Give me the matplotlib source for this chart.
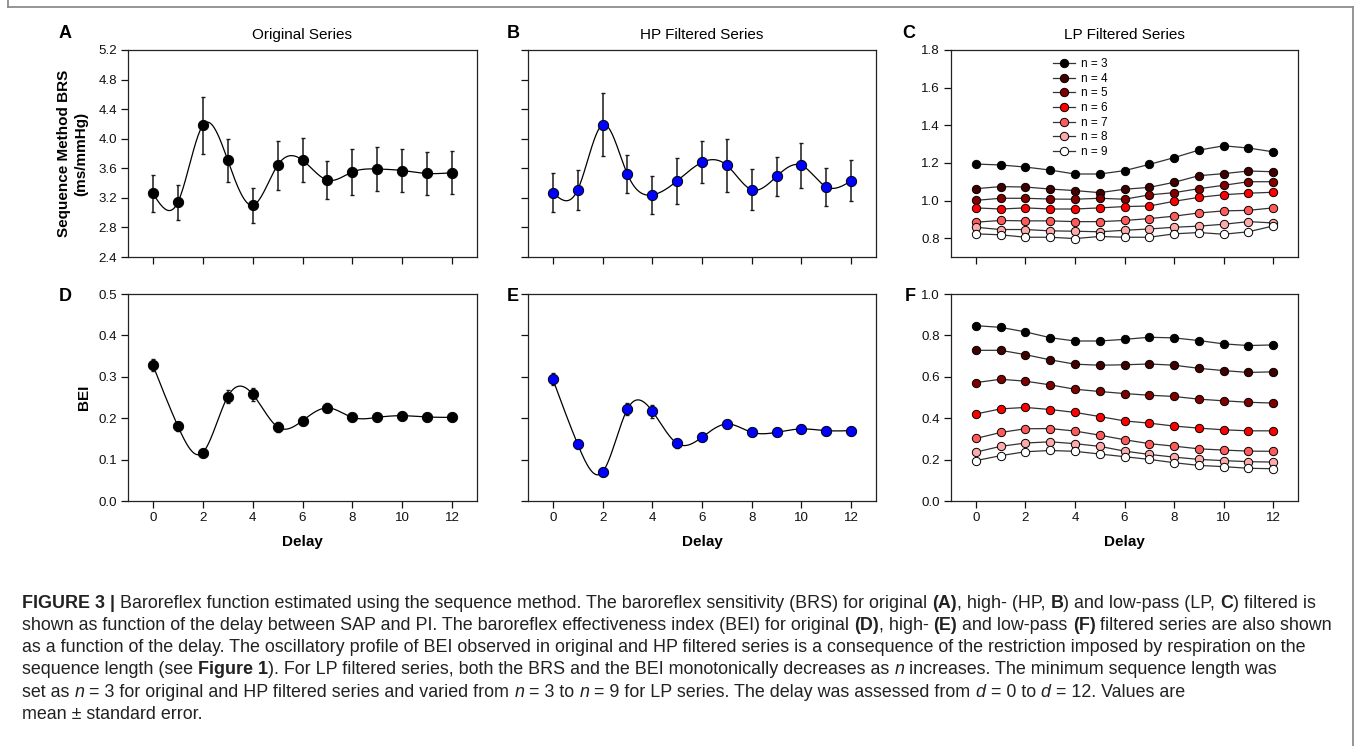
import numpy as np
import matplotlib
matplotlib.use("Agg")
import matplotlib.pyplot as plt
from matplotlib.lines import Line2D
from matplotlib.font_manager import FontProperties

W, H = 1358, 746
FONT = "Liberation Sans"

DELAY = np.arange(13)

# BRS (ms/mmHg), mean and standard error
brs_orig = [3.26, 3.14, 4.18, 3.71, 3.10, 3.64, 3.71, 3.44, 3.55, 3.59, 3.57, 3.53, 3.54]
brs_orig_se = [0.25, 0.235, 0.38, 0.29, 0.235, 0.335, 0.30, 0.257, 0.306, 0.30, 0.29, 0.286, 0.29]
brs_hp = [3.27, 3.31, 4.19, 3.52, 3.24, 3.43, 3.68, 3.64, 3.31, 3.49, 3.64, 3.35, 3.43]
brs_hp_se = [0.26, 0.27, 0.43, 0.26, 0.255, 0.315, 0.285, 0.36, 0.277, 0.266, 0.30, 0.26, 0.277]

# BEI, mean and standard error
bei_orig = [0.328, 0.181, 0.117, 0.252, 0.258, 0.179, 0.194, 0.225, 0.202, 0.202, 0.206, 0.203, 0.202]
bei_orig_se = [0.014, 0.011, 0.007, 0.015, 0.016, 0.012, 0.008, 0.011, 0.006, 0.006, 0.006, 0.005, 0.005]
bei_hp = [0.294, 0.137, 0.070, 0.222, 0.217, 0.139, 0.154, 0.186, 0.166, 0.166, 0.174, 0.170, 0.170]
bei_hp_se = [0.014, 0.008, 0.007, 0.014, 0.016, 0.011, 0.008, 0.008, 0.006, 0.006, 0.006, 0.005, 0.005]

# LP filtered series, one row per minimum sequence length n
LP_N = [3, 4, 5, 6, 7, 8, 9]
LP_COLORS = ["#000000", "#400000", "#800000", "#ff0000", "#ff5a5a", "#ffaaaa", "#ffffff"]
brs_lp = [
    [1.194, 1.189, 1.178, 1.162, 1.141, 1.141, 1.159, 1.192, 1.228, 1.268, 1.291, 1.279, 1.259],
    [1.063, 1.074, 1.072, 1.061, 1.053, 1.042, 1.060, 1.070, 1.097, 1.132, 1.143, 1.157, 1.153],
    [1.001, 1.012, 1.012, 1.008, 1.007, 1.012, 1.007, 1.030, 1.042, 1.063, 1.081, 1.100, 1.100],
    [0.961, 0.955, 0.961, 0.955, 0.955, 0.961, 0.968, 0.971, 0.996, 1.017, 1.031, 1.039, 1.044],
    [0.885, 0.894, 0.892, 0.892, 0.888, 0.888, 0.894, 0.904, 0.917, 0.934, 0.945, 0.948, 0.961],
    [0.858, 0.846, 0.846, 0.839, 0.837, 0.834, 0.842, 0.849, 0.858, 0.864, 0.874, 0.888, 0.881],
    [0.823, 0.818, 0.805, 0.805, 0.798, 0.809, 0.805, 0.805, 0.823, 0.830, 0.821, 0.834, 0.865],
]
bei_lp = [
    [0.847, 0.839, 0.817, 0.789, 0.773, 0.773, 0.781, 0.791, 0.788, 0.775, 0.759, 0.751, 0.754],
    [0.728, 0.728, 0.707, 0.682, 0.661, 0.656, 0.658, 0.662, 0.656, 0.641, 0.630, 0.621, 0.624],
    [0.572, 0.588, 0.579, 0.561, 0.540, 0.529, 0.519, 0.511, 0.505, 0.492, 0.484, 0.477, 0.473],
    [0.420, 0.445, 0.452, 0.442, 0.428, 0.408, 0.387, 0.376, 0.362, 0.352, 0.344, 0.339, 0.339],
    [0.302, 0.331, 0.349, 0.350, 0.338, 0.318, 0.296, 0.277, 0.265, 0.252, 0.246, 0.241, 0.240],
    [0.236, 0.264, 0.280, 0.286, 0.277, 0.264, 0.241, 0.225, 0.212, 0.201, 0.195, 0.190, 0.188],
    [0.195, 0.219, 0.238, 0.244, 0.240, 0.227, 0.214, 0.201, 0.185, 0.172, 0.166, 0.158, 0.156],
]

CAPTION = [
    [("FIGURE 3 |", "b"), (" Baroreflex function estimated using the sequence method. The baroreflex sensitivity (BRS) for original ", ""),
     ("(A)", "b"), (", high- (HP, ", ""), ("B", "b"), (") and low-pass (LP, ", ""), ("C", "b"), (") filtered is", "")],
    [("shown as function of the delay between SAP and PI. The baroreflex effectiveness index (BEI) for original ", ""),
     ("(D)", "b"), (", high- ", ""), ("(E)", "b"), (" and low-pass ", ""), ("(F)", "b"), (" filtered series are also shown", "")],
    [("as a function of the delay. The oscillatory profile of BEI observed in original and HP filtered series is a consequence of the restriction imposed by respiration on the", "")],
    [("sequence length (see ", ""), ("Figure 1", "b"), ("). For LP filtered series, both the BRS and the BEI monotonically decreases as ", ""),
     ("n", "i"), (" increases. The minimum sequence length was", "")],
    [("set as ", ""), ("n", "i"), (" = 3 for original and HP filtered series and varied from ", ""), ("n", "i"), (" = 3 to ", ""),
     ("n", "i"), (" = 9 for LP series. The delay was assessed from ", ""), ("d", "i"), (" = 0 to ", ""), ("d", "i"), (" = 12. Values are", "")],
    [("mean \u00b1 standard error.", "")],
]


def natural_spline(x, y, xs):
    x = np.asarray(x, float)
    y = np.asarray(y, float)
    n = len(x)
    h = np.diff(x)
    A = np.zeros((n, n))
    b = np.zeros(n)
    A[0, 0] = A[-1, -1] = 1
    for i in range(1, n - 1):
        A[i, i - 1] = h[i - 1]
        A[i, i] = 2 * (h[i - 1] + h[i])
        A[i, i + 1] = h[i]
        b[i] = 6 * ((y[i + 1] - y[i]) / h[i] - (y[i] - y[i - 1]) / h[i - 1])
    M = np.linalg.solve(A, b)
    idx = np.clip(np.searchsorted(x, xs) - 1, 0, n - 2)
    x0, x1 = x[idx], x[idx + 1]
    hh = x1 - x0
    t0, t1 = x1 - xs, xs - x0
    return (M[idx] * t0 ** 3 + M[idx + 1] * t1 ** 3) / (6 * hh) + \
        (y[idx] / hh - M[idx] * hh / 6) * t0 + (y[idx + 1] / hh - M[idx + 1] * hh / 6) * t1


def box(left, top, right, bottom):
    return [left / W, 1 - bottom / H, (right - left) / W, (bottom - top) / H]


def style_axes(ax, ylim, yticks, show_ylabels, show_xlabels):
    ax.set_xlim(-1, 13)
    ax.set_ylim(*ylim)
    ax.set_xticks(range(0, 13, 2))
    ax.set_yticks(yticks)
    ax.yaxis.set_major_formatter(plt.FormatStrFormatter("%.1f"))
    ax.tick_params(direction="out", length=5, width=0.9, labelsize=9.6, pad=3, colors="#111111")
    if not show_ylabels:
        ax.set_yticklabels([])
    if not show_xlabels:
        ax.set_xticklabels([])
    for s in ax.spines.values():
        s.set_linewidth(0.9)
        s.set_color("#222222")


def mean_panel(ax, mean, se, face):
    xs = np.linspace(0, 12, 500)
    ax.plot(xs, natural_spline(DELAY, mean, xs), color="k", lw=0.9, zorder=1)
    ax.errorbar(DELAY, mean, yerr=se, fmt="none", ecolor="#1a1a1a", elinewidth=1.1,
                capsize=1.6, capthick=1.0, zorder=2)
    ax.plot(DELAY, mean, "o", ms=7.4, mfc=face, mec="k", mew=0.7, ls="none", zorder=3)


def lp_panel(ax, rows, legend=False):
    for n, vals, c in zip(LP_N, rows, LP_COLORS):
        ax.plot(DELAY, vals, "-o", color="#333333", lw=0.9, ms=6.0, mfc=c, mec="k",
                mew=0.7, label=f"n = {n}")
    if legend:
        ax.legend(loc="upper left", bbox_to_anchor=(0.27, 1.0), frameon=False,
                  handlelength=1.9, handletextpad=0.5, labelspacing=0.22,
                  borderaxespad=0.3, prop={"family": FONT, "size": 8.5})


def seg_width(renderer, s, prop):
    w1 = renderer.get_text_width_height_descent("|" + s + "|", prop, ismath=False)[0]
    w0 = renderer.get_text_width_height_descent("||", prop, ismath=False)[0]
    return w1 - w0


def line_props(st, size):
    return FontProperties(family=FONT, size=size,
                          weight="bold" if "b" in st else "normal",
                          style="italic" if "i" in st else "normal")


def main():
    plt.rcParams["font.family"] = [FONT, "DejaVu Sans"]
    fig = plt.figure(figsize=(W / 100, H / 100), dpi=100)

    # outer frame of the figure
    for xs_, ys_ in [((8, 8), (0, 7)), ((8, 1353), (7, 7)), ((1353, 1353), (7, 746))]:
        fig.add_artist(Line2D([v / W for v in xs_], [1 - v / H for v in ys_],
                              color="#8c8c8c", lw=1.3))

    axA = fig.add_axes(box(128, 50, 477, 257))
    axB = fig.add_axes(box(528, 50, 876, 257))
    axC = fig.add_axes(box(951, 50, 1298, 257))
    axD = fig.add_axes(box(128, 294, 477, 501))
    axE = fig.add_axes(box(528, 294, 876, 501))
    axF = fig.add_axes(box(951, 294, 1298, 501))

    mean_panel(axA, brs_orig, brs_orig_se, "k")
    mean_panel(axB, brs_hp, brs_hp_se, "#0000ff")
    mean_panel(axD, bei_orig, bei_orig_se, "k")
    mean_panel(axE, bei_hp, bei_hp_se, "#0000ff")
    lp_panel(axC, brs_lp, legend=True)
    lp_panel(axF, bei_lp)

    brs_ticks = np.arange(2.4, 5.21, 0.4)
    bei_ticks = np.arange(0, 0.51, 0.1)
    style_axes(axA, (2.4, 5.2), brs_ticks, True, False)
    style_axes(axB, (2.4, 5.2), brs_ticks, False, False)
    style_axes(axC, (0.7, 1.8), np.arange(0.8, 1.81, 0.2), True, False)
    style_axes(axD, (0, 0.5), bei_ticks, True, True)
    style_axes(axE, (0, 0.5), bei_ticks, False, True)
    style_axes(axF, (0, 1.0), np.arange(0, 1.01, 0.2), True, True)

    for ax, title in [(axA, "Original Series"), (axB, "HP Filtered Series"), (axC, "LP Filtered Series")]:
        ax.set_title(title, fontsize=11, pad=8)
    for ax in (axD, axE, axF):
        ax.set_xlabel("Delay", fontsize=11, fontweight="bold", labelpad=8)

    axA.set_ylabel("Sequence Method BRS\n(ms/mmHg)", fontsize=11, fontweight="bold",
                   linespacing=1.35, labelpad=7)
    axD.set_ylabel("BEI", fontsize=11, fontweight="bold", labelpad=5)

    for letter, x, y in [("A", 65, 33), ("B", 513, 33), ("C", 909, 33),
                         ("D", 65, 297), ("E", 513, 297), ("F", 910, 297)]:
        fig.text(x / W, 1 - y / H, letter, fontsize=13, fontweight="bold",
                 ha="center", va="center")

    # caption with mixed bold / italic runs; size chosen so the first line spans the frame
    renderer = fig.canvas.get_renderer()
    ref = 10.0
    w_first = sum(seg_width(renderer, t, line_props(st, ref)) for t, st in CAPTION[0])
    size = ref * 1296 / w_first
    y = 603
    for line in CAPTION:
        x = 22
        for text, st in line:
            prop = line_props(st, size)
            fig.text(x / W, 1 - y / H, text, fontproperties=prop, va="center", ha="left",
                     color="#222222")
            x += seg_width(renderer, text, prop)
        y += 22.3

    fig.savefig("out.png", dpi=100)
    plt.close(fig)


if __name__ == "__main__":
    main()
